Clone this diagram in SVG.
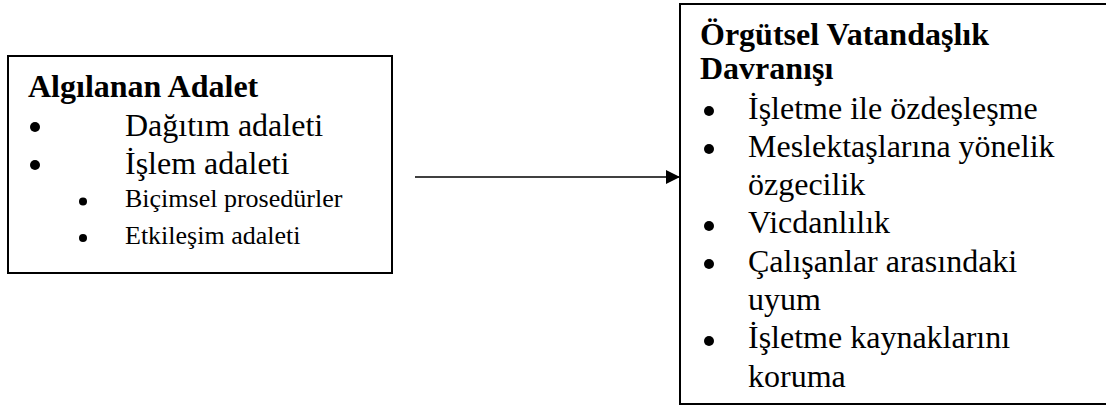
<svg xmlns="http://www.w3.org/2000/svg" width="1106" height="405" viewBox="0 0 1106 405">
<style>
.box{fill:#fff;stroke:#000;stroke-width:2}
text{font-family:'Liberation Serif','Times New Roman',Times,serif;font-size:32px;fill:#000}
.b{font-weight:bold}
.s{font-size:26px}
.dot{fill:#000}
</style>
<defs>
<marker id="ah" markerWidth="14" markerHeight="14" refX="13" refY="7" orient="auto" markerUnits="userSpaceOnUse">
<path d="M0,0 L14,7 L0,14 Z" fill="#000"/>
</marker>
</defs>
<rect width="1106" height="405" fill="#fff"/>
<g id="connectors">
<line x1="415" y1="177" x2="679" y2="177" stroke="#000" stroke-width="1.5" marker-end="url(#ah)"/>
</g>
<g id="node-algilanan-adalet" font-family="Liberation Serif, serif">
<rect class="box" x="8" y="56" width="384" height="217"/>
<text class="b" x="28" y="97">Algılanan Adalet</text>
<circle class="dot" cx="35" cy="127" r="5"/>
<text x="125" y="136">Dağıtım adaleti</text>
<circle class="dot" cx="35" cy="165" r="5"/>
<text x="125" y="174">İşlem adaleti</text>
<circle class="dot" cx="83" cy="201.5" r="4"/>
<text class="s" x="125" y="207">Biçimsel prosedürler</text>
<circle class="dot" cx="83" cy="238" r="4"/>
<text class="s" x="125" y="244">Etkileşim adaleti</text>
</g>
<g id="node-orgutsel-vatandaslik" font-family="Liberation Serif, serif">
<rect class="box" x="680" y="4" width="500" height="400"/>
<text class="b" x="700" y="45">Örgütsel Vatandaşlık</text>
<text class="b" x="700" y="79">Davranışı</text>
<circle class="dot" cx="709" cy="111" r="5"/>
<text x="748" y="119">İşletme ile özdeşleşme</text>
<circle class="dot" cx="709" cy="149" r="5"/>
<text x="748" y="157">Meslektaşlarına yönelik</text>
<text x="748" y="195">özgecilik</text>
<circle class="dot" cx="709" cy="226" r="5"/>
<text x="748" y="233">Vicdanlılık</text>
<circle class="dot" cx="709" cy="264" r="5"/>
<text x="748" y="272">Çalışanlar arasındaki</text>
<text x="748" y="310">uyum</text>
<circle class="dot" cx="709" cy="341" r="5"/>
<text x="748" y="348">İşletme kaynaklarını</text>
<text x="748" y="387">koruma</text>
</g>
</svg>
